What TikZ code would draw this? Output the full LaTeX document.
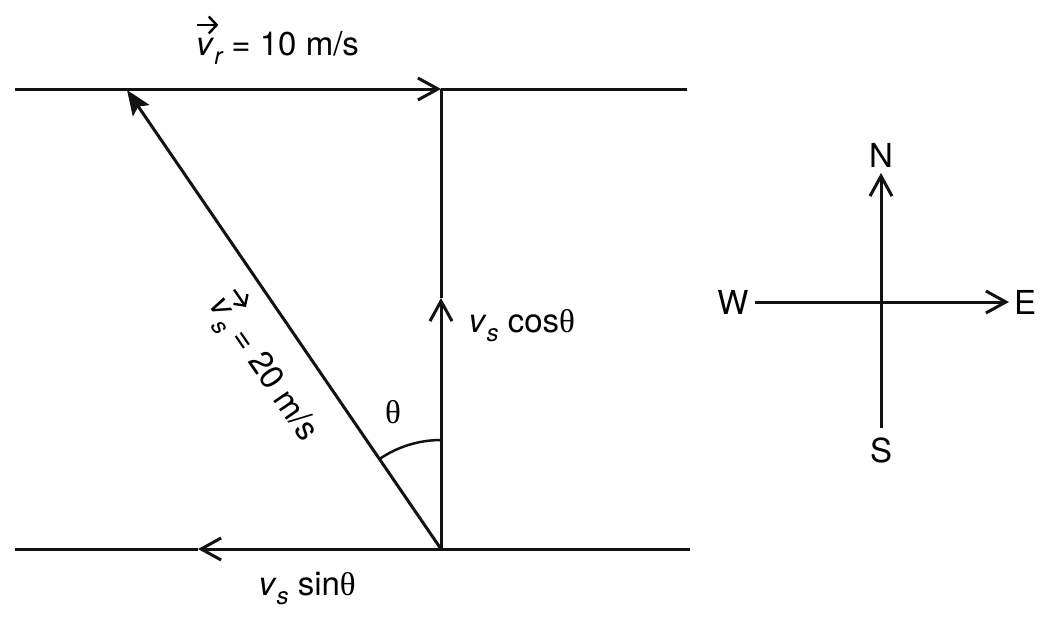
\documentclass[tikz,border=0pt]{standalone}
\usepackage{fontspec}
\setmainfont{TeX Gyre Heros}
\newfontfamily\thfont{Liberation Serif}
\usetikzlibrary{arrows.meta}
\newcommand{\myvec}[1]{\makebox[0pt][l]{\raisebox{30pt}{\tikz[baseline=0pt]\draw[line width=2.4pt,-{Straight Barb[length=8pt,width=17pt,line width=2.4pt]}] (1pt,0pt) -- (22pt,0pt);}}#1}
\newcommand{\mysub}[1]{\raisebox{-0.3em}{\fontsize{24}{24}\selectfont\itshape #1}}
\newcommand{\myth}{{\thfont θ}}
\begin{document}
\begin{tikzpicture}[x=1pt,y=-1pt,line width=3pt,color=black!93,
  lbl/.style={inner sep=0pt, text=black, font=\fontsize{33}{38}\selectfont},
  barb/.style={-{Straight Barb[length=20pt,width=22pt,line width=3pt]}},
  bigtip/.style={-{Stealth[length=25pt,width=20pt,inset=5pt]}}]
\fill[white] (0,0) rectangle (1048,621);
% river banks and vectors
\coordinate (TL) at (15,89);
\coordinate (TM) at (441,89);
\coordinate (TR) at (687,89);
\coordinate (BL) at (15,549);
\coordinate (BM) at (441,549);
\coordinate (BR) at (690,549);
\coordinate (TA) at (127,90);
\coordinate (VA) at (441,298);
\coordinate (HA) at (198,549);
\draw[barb] (TL) -- (TM);
\draw (TM) -- (TR);
\draw[barb] (BM) -- (VA);
\draw (VA) -- (TM);
\draw[barb] (BR) -- (HA);
\draw (HA) -- (BL);
\draw[bigtip] (BM) -- (TA);
\draw[line width=2.5pt] (BM) ++(0,-109) arc[start angle=-90,end angle=-124.5,radius=109];
% labels
\node[lbl, anchor=base west] (vr) at (196,55) {\myvec{\textit{v}}\mysub{r} = 10 m/s};
\node[lbl, anchor=base west] (vc) at (467,332) {\textit{v}\mysub{s} cos\myth};
\node[lbl, anchor=base west] (vsn) at (257,595) {\textit{v}\mysub{s} sin\myth};
\node[lbl] (th) at (393,412) {\myth};
\node[lbl, rotate=-55.5] (vs) at (268,366) {\myvec{\textit{v}}\mysub{s} = 20 m/s};
% compass
\coordinate (C) at (881,302);
\coordinate (Ntip) at (881,173);
\coordinate (Send) at (881,428);
\coordinate (Wend) at (755,302);
\coordinate (Etip) at (1009,302);
\draw[barb] (Send) -- (Ntip);
\draw[barb] (Wend) -- (Etip);
\node[lbl] (N) at (881,155) {N};
\node[lbl] (S) at (881,450) {S};
\node[lbl] (W) at (733,302) {W};
\node[lbl] (E) at (1025,302) {E};
\end{tikzpicture}
\end{document}
